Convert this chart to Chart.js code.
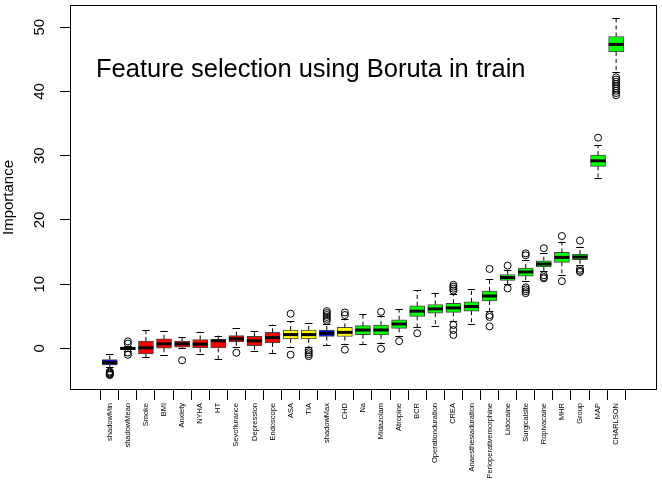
<!DOCTYPE html>
<html>
<head>
<meta charset="utf-8">
<script src="https://cdn.jsdelivr.net/npm/chart.js@4.4.0/dist/chart.umd.min.js"></script>
<style>
  html, body { margin: 0; padding: 0; background: #fff; }
  #wrap { width: 662px; height: 480px; }
</style>
</head>
<body>
<div id="wrap"><canvas id="borutaChart" width="662" height="480"></canvas></div>
<script>
// data
const features = ['shadowMin', 'shadowMean', 'Smoke', 'BMI', 'Anxiety', 'NYHA', 'HT', 'Sevoflurance',
    'Depression', 'Endoscope', 'ASA', 'TIA', 'shadowMax', 'CHD', 'Na', 'Midazolam', 'Atropine', 'BCR',
    'Operationduration', 'CREA', 'Anaesthesiaduration', 'Perioperativemorphine', 'Lidocaine',
    'Surgicalsite', 'Ropivacaine', 'MHR', 'Group', 'MAP', 'CHARLSON'];
const decision = ['Shadow', 'Shadow', 'Rejected', 'Rejected', 'Rejected', 'Rejected', 'Rejected', 'Rejected',
    'Rejected', 'Rejected', 'Tentative', 'Tentative', 'Shadow', 'Tentative', 'Confirmed', 'Confirmed',
    'Confirmed', 'Confirmed', 'Confirmed', 'Confirmed', 'Confirmed', 'Confirmed', 'Confirmed',
    'Confirmed', 'Confirmed', 'Confirmed', 'Confirmed', 'Confirmed', 'Confirmed'];
const lowerWhisker = [-2.9, -0.4, -1.33, -0.98, 0.05, -0.82, -1.64, 0.2, -0.36, -0.67, 0.3, 0.3, 0.46, 0.72,
    0.72, 0.9, 2.0, 3.28, 3.54, 4.3, 3.85, 5.85, 9.96, 10.47, 12.0, 11.5, 13.04, 26.5, 43.1];
const q1 = [-2.57, -0.15, -0.87, 0.05, 0.21, 0.0, 0.0, 1.03, 0.41, 0.87, 1.49, 1.49, 1.85, 1.85,
    2.15, 2.1, 3.13, 4.98, 5.49, 5.6, 5.8, 7.39, 10.58, 11.24, 12.68, 13.4, 13.8, 28.33, 46.15];
const median = [-2.2, 0.0, 0.1, 0.72, 0.72, 0.67, 1.2, 1.49, 1.18, 1.69, 2.15, 2.15, 2.35, 2.5,
    2.87, 2.87, 3.8, 5.8, 6.16, 6.31, 6.52, 8.16, 11.04, 11.91, 13.14, 14.17, 14.22, 29.2, 47.32];
const q3 = [-1.74, 0.2, 1.13, 1.49, 1.13, 1.39, 1.39, 2.0, 1.9, 2.5, 2.87, 2.87, 2.87, 3.28,
    3.54, 3.65, 4.47, 6.62, 6.83, 7.03, 7.24, 8.93, 11.5, 12.52, 13.65, 14.94, 14.68, 30.08, 48.55];
const upperWhisker = [-0.82, 0.45, 2.92, 2.67, 1.75, 2.56, 2.0, 3.18, 2.67, 3.7, 4.2, 3.9, 3.8, 4.6,
    5.3, 5.0, 6.11, 9.09, 8.67, 8.5, 9.19, 10.83, 12.27, 13.8, 14.83, 16.63, 15.76, 31.6, 51.43];
const outliers = [
    [-3.6, -3.75, -3.9, -4.05, -4.15],
    [1.1, 0.75, -0.65, -1.0],
    [], [],
    [-1.85],
    [], [],
    [-0.67],
    [], [],
    [5.4, -0.98],
    [-0.3, -0.6, -0.9, -1.2],
    [4.3, 4.6, 4.9, 5.2, 5.5, 5.8],
    [5.2, 5.6, -0.2],
    [],
    [5.7, -0.05],
    [1.13],
    [2.36],
    [],
    [9.0, 9.3, 9.6, 9.9, 3.65, 2.87, 2.1],
    [],
    [12.37, 5.2, 4.9, 3.43],
    [12.89, 9.35],
    [14.8, 14.5, 9.5, 9.2, 8.9, 8.6],
    [15.6, 11.4, 11.1, 10.9],
    [17.5, 10.47],
    [16.78, 12.4, 12.1, 11.9],
    [32.8],
    [42.2, 41.85, 41.5, 41.15, 40.8, 40.45, 40.1, 39.75, 39.4]
];
const yTicks = [0, 10, 20, 30, 40, 50];
const chartTitle = 'Feature selection using Boruta in train';
const yTitle = 'Importance';

const warna = { Shadow: '#0000ff', Rejected: '#ff0000', Tentative: '#ffff00', Confirmed: '#00ff00' };
const FONT = '"Liberation Sans", Arial, Helvetica, sans-serif';
const BOX_W = 15;

// whiskers, medians, frame and texts
const boxplotExtras = {
    id: 'boxplotExtras',
    afterDatasetsDraw(chart) {
        const ctx = chart.ctx;
        const xs = chart.scales.x;
        const ys = chart.scales.y;
        const area = chart.chartArea;

        ctx.save();
        ctx.strokeStyle = '#000';
        features.forEach((f, i) => {
            const cx = xs.getPixelForValue(i + 1);
            // dashed whiskers
            ctx.lineWidth = 1;
            ctx.setLineDash([4, 3]);
            ctx.beginPath();
            ctx.moveTo(cx, ys.getPixelForValue(q3[i]));
            ctx.lineTo(cx, ys.getPixelForValue(upperWhisker[i]));
            ctx.moveTo(cx, ys.getPixelForValue(q1[i]));
            ctx.lineTo(cx, ys.getPixelForValue(lowerWhisker[i]));
            ctx.stroke();
            // staples
            ctx.setLineDash([]);
            ctx.beginPath();
            const yu = Math.round(ys.getPixelForValue(upperWhisker[i])) + 0.5;
            const yl = Math.round(ys.getPixelForValue(lowerWhisker[i])) + 0.5;
            ctx.moveTo(cx - BOX_W / 4, yu);
            ctx.lineTo(cx + BOX_W / 4, yu);
            ctx.moveTo(cx - BOX_W / 4, yl);
            ctx.lineTo(cx + BOX_W / 4, yl);
            ctx.stroke();
            // median
            ctx.lineWidth = 3;
            ctx.beginPath();
            const ym = ys.getPixelForValue(median[i]);
            ctx.moveTo(cx - BOX_W / 2, ym);
            ctx.lineTo(cx + BOX_W / 2, ym);
            ctx.stroke();
        });

        // plot frame
        ctx.lineWidth = 1;
        ctx.strokeStyle = '#000';
        ctx.strokeRect(area.left + 0.5, area.top + 0.5, area.right - area.left - 1, area.bottom - area.top - 1);

        // title inside the plot
        ctx.fillStyle = '#000';
        ctx.font = '25.5px ' + FONT;
        ctx.textAlign = 'left';
        ctx.textBaseline = 'alphabetic';
        ctx.fillText(chartTitle, 96, 77);

        // rotated y tick labels
        ctx.font = '15px ' + FONT;
        ctx.textAlign = 'center';
        ctx.textBaseline = 'middle';
        yTicks.forEach(v => {
            ctx.save();
            ctx.translate(40, ys.getPixelForValue(v));
            ctx.rotate(-Math.PI / 2);
            ctx.fillText(String(v), 0, 0);
            ctx.restore();
        });

        // y axis title
        ctx.save();
        ctx.translate(9, (area.top + area.bottom) / 2);
        ctx.rotate(-Math.PI / 2);
        ctx.fillText(yTitle, 0, 0);
        ctx.restore();

        ctx.restore();
    }
};

const ctx = document.getElementById('borutaChart').getContext('2d');
new Chart(ctx, {
    type: 'bar',
    data: {
        datasets: [{
            type: 'scatter',
            label: 'outliers',
            data: outliers.flatMap((arr, i) => arr.map(v => ({ x: i + 1, y: v }))),
            pointRadius: 3.5,
            pointBorderWidth: 1,
            pointBorderColor: '#000',
            pointBackgroundColor: 'rgba(0,0,0,0)',
            showLine: false
        }, {
            type: 'bar',
            label: 'Importance',
            data: features.map((f, i) => ({ x: i + 1, y: [q1[i], q3[i]] })),
            backgroundColor: decision.map(d => warna[d]),
            borderColor: '#444',
            borderWidth: 1,
            borderSkipped: false,
            barThickness: BOX_W
        }]
    },
    options: {
        responsive: false,
        animation: false,
        devicePixelRatio: 1,
        layout: { padding: { left: 0, top: 1, right: 1, bottom: 0 } },
        plugins: {
            legend: { display: false },
            tooltip: { enabled: false },
            title: { display: false }
        },
        scales: {
            x: {
                type: 'linear',
                min: -0.64,
                max: 30.7,
                afterBuildTicks: s => { s.ticks = features.map((f, i) => ({ value: i + 1 })); },
                afterFit: s => { s.height = 90; },
                grid: { drawOnChartArea: false, drawTicks: true, tickLength: 10, color: '#000' },
                border: { display: false },
                ticks: {
                    autoSkip: false,
                    minRotation: 90,
                    maxRotation: 90,
                    padding: 3,
                    color: '#000',
                    font: { family: FONT, size: 7.5 },
                    callback: v => features[v - 1]
                }
            },
            y: {
                type: 'linear',
                min: -6.47,
                max: 53.45,
                afterBuildTicks: s => { s.ticks = yTicks.map(v => ({ value: v })); },
                afterFit: s => { s.width = 70; },
                grid: { drawOnChartArea: false, drawTicks: true, tickLength: 10, color: '#000' },
                border: { display: false },
                ticks: { display: false }
            }
        }
    },
    plugins: [boxplotExtras]
});
</script>
</body>
</html>
